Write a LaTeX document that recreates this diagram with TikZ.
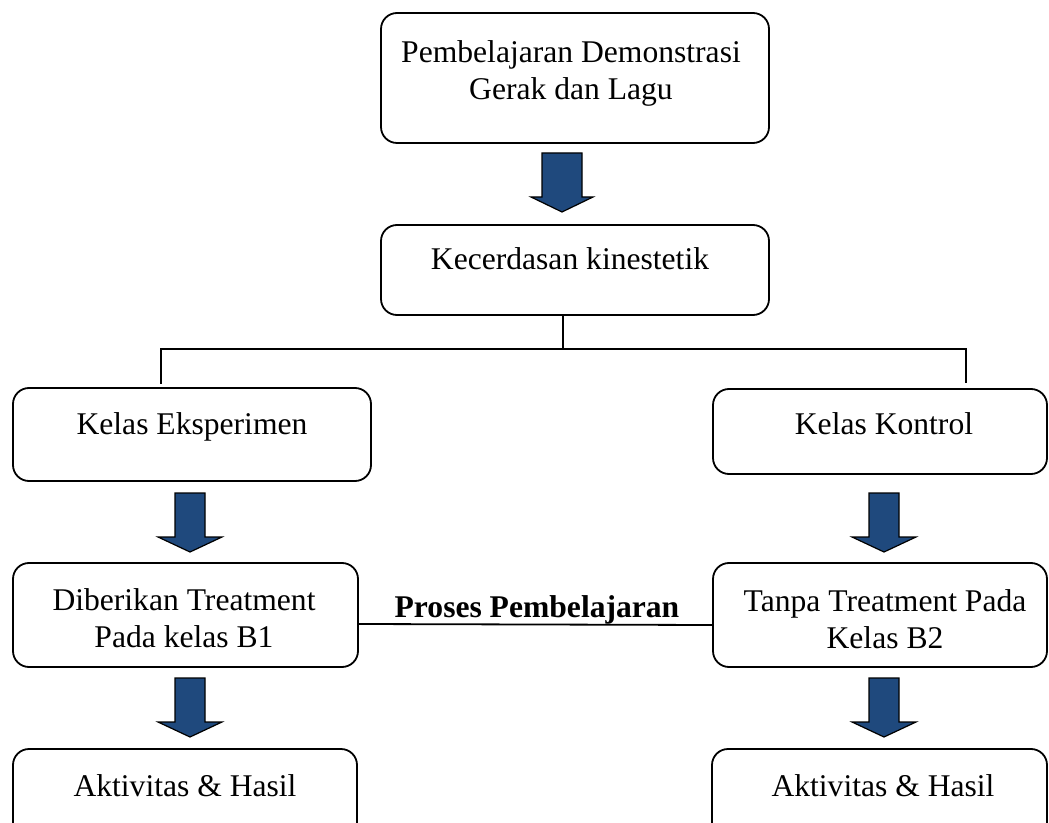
\documentclass[tikz,border=0pt]{standalone}
\usepackage{fontspec}
\setmainfont{Liberation Serif}
\usetikzlibrary{fit}
\definecolor{arrowblue}{RGB}{31,73,125}
\tikzset{
  box/.style={draw,line width=0.9pt,rounded corners=8pt,inner sep=0pt},
  txt/.style={anchor=base,align=center,inner sep=0pt,font=\fontsize{15.8}{18.5}\selectfont},
  conn/.style={line width=0.9pt},
  fat/.style={fill=arrowblue,draw=black,line width=0.6pt,line join=miter}
}

\begin{document}
\begin{tikzpicture}[x=0.5pt,y=-0.5pt]
\path[use as bounding box,clip] (0,0) rectangle (1049,823);
\node[box,fit={(381,13)(769,143)}] (top) {};
\node[box,fit={(381,225)(769,315)}] (kin) {};
\node[box,fit={(13,388)(371,481)}] (eks) {};
\node[box,fit={(713,389)(1047,474)}] (kon) {};
\node[box,fit={(13,563)(358,667)}] (dib) {};
\node[box,fit={(713,563)(1047,667)}] (tan) {};
\node[box,fit={(13,749)(357,860)}] (akl) {};
\node[box,fit={(712,749)(1047,860)}] (akr) {};
\node[txt] (top-t) at (571,100) {Pembelajaran Demonstrasi\\Gerak dan Lagu};
\node[txt] (kin-t) at (570,270) {Kecerdasan kinestetik};
\node[txt] (eks-t) at (192,435) {Kelas Eksperimen};
\node[txt] (kon-t) at (884,435) {Kelas Kontrol};
\node[txt] (dib-t) at (184,647) {Diberikan Treatment\\Pada kelas B1};
\node[txt] (tan-t) at (885,648) {Tanpa Treatment Pada\\Kelas B2};
\node[txt] (akl-t) at (185,796) {Aktivitas \& Hasil};
\node[txt] (akr-t) at (883,796) {Aktivitas \& Hasil};
\node[txt,font=\fontsize{15.8}{18.5}\selectfont\bfseries] (proc) at (537,617) {Proses Pembelajaran};
\coordinate (split) at (563,349);
\coordinate (bl) at (161,384);
\coordinate (br) at (966,383);
\draw[conn] (kin.south -| split) -- (split);
\draw[conn] (bl) -- (bl |- split) -- (br |- split) -- (br);
\draw[conn] ([yshift=-4.5pt]dib.east) -- ([yshift=-5pt]tan.west);
\foreach \x/\t/\w/\h in {562/153/20/31,190/493/15/32,884/493/15/32,190/678/15/32,884/678/15/32}
  \draw[fat] (\x-\w,\t) -- (\x+\w,\t) -- (\x+\w,\t+44) -- (\x+\h,\t+44) -- (\x,\t+59) -- (\x-\h,\t+44) -- (\x-\w,\t+44) -- cycle;
\end{tikzpicture}
\end{document}
